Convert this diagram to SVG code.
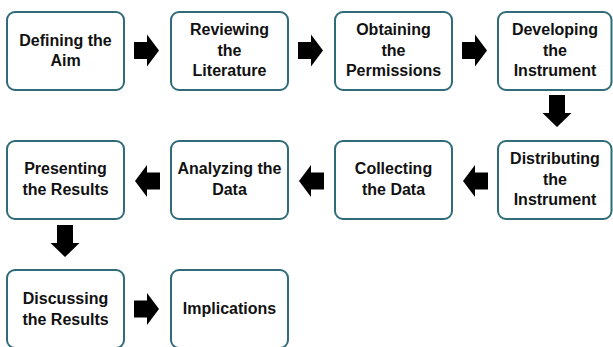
<svg xmlns="http://www.w3.org/2000/svg" width="613" height="347" viewBox="0 0 613 347">
<style>
.box{fill:#ffffff;stroke:#2f6b78;stroke-width:2}
.t{font-family:"Liberation Sans",Arial,sans-serif;font-weight:bold;font-size:16px;fill:#111111;text-anchor:middle}
.arr{fill:#000000}
</style>
<defs>
<path id="ar" d="M0,-8.5 H13 V-16 L25,0 L13,16 V8.5 H0 Z"/>
<path id="ad" d="M-8,0 H8 V18 H14.5 L0,32 L-14.5,18 H-8 Z"/>
</defs>
<rect width="613" height="347" fill="#ffffff"/>
<g id="connectors" class="arr">
<use href="#ar" transform="translate(134,50.5)"/>
<use href="#ar" transform="translate(298,50.5)"/>
<use href="#ar" transform="translate(462,50.5)"/>
<use href="#ad" transform="translate(557,95)"/>
<use href="#ar" transform="translate(488,181) rotate(180)"/>
<use href="#ar" transform="translate(324,181) rotate(180)"/>
<use href="#ar" transform="translate(160,181) rotate(180)"/>
<use href="#ad" transform="translate(65,225)"/>
<use href="#ar" transform="translate(134,309)"/>
</g>
<g id="n1"><rect class="box" x="7" y="12" width="117" height="78" rx="8"/>
<text class="t" x="65.5" y="46">Defining the</text><text class="t" x="65.5" y="66">Aim</text></g>
<g id="n2"><rect class="box" x="171" y="12" width="117" height="78" rx="8"/>
<text class="t" x="229.5" y="35">Reviewing</text><text class="t" x="229.5" y="55.5">the</text><text class="t" x="229.5" y="76">Literature</text></g>
<g id="n3"><rect class="box" x="335" y="12" width="117" height="78" rx="8"/>
<text class="t" x="393.5" y="35">Obtaining</text><text class="t" x="393.5" y="55.5">the</text><text class="t" x="393.5" y="76">Permissions</text></g>
<g id="n4"><rect class="box" x="498" y="12" width="113.5" height="78" rx="8"/>
<text class="t" x="555" y="35">Developing</text><text class="t" x="555" y="55.5">the</text><text class="t" x="555" y="76">Instrument</text></g>
<g id="n5"><rect class="box" x="498" y="141" width="113.5" height="78" rx="8"/>
<text class="t" x="555" y="164">Distributing</text><text class="t" x="555" y="184.5">the</text><text class="t" x="555" y="205">Instrument</text></g>
<g id="n6"><rect class="box" x="335" y="141" width="117" height="78" rx="8"/>
<text class="t" x="393.5" y="174">Collecting</text><text class="t" x="393.5" y="194.5">the Data</text></g>
<g id="n7"><rect class="box" x="171" y="141" width="117" height="78" rx="8"/>
<text class="t" x="229.5" y="174">Analyzing the</text><text class="t" x="229.5" y="194.5">Data</text></g>
<g id="n8"><rect class="box" x="7" y="141" width="117" height="78" rx="8"/>
<text class="t" x="65.5" y="174">Presenting</text><text class="t" x="65.5" y="194.5">the Results</text></g>
<g id="n9"><rect class="box" x="7" y="270" width="117" height="78" rx="8"/>
<text class="t" x="65.5" y="304">Discussing</text><text class="t" x="65.5" y="325">the Results</text></g>
<g id="n10"><rect class="box" x="171" y="270" width="117" height="78" rx="8"/>
<text class="t" x="229.5" y="314">Implications</text></g>
</svg>
